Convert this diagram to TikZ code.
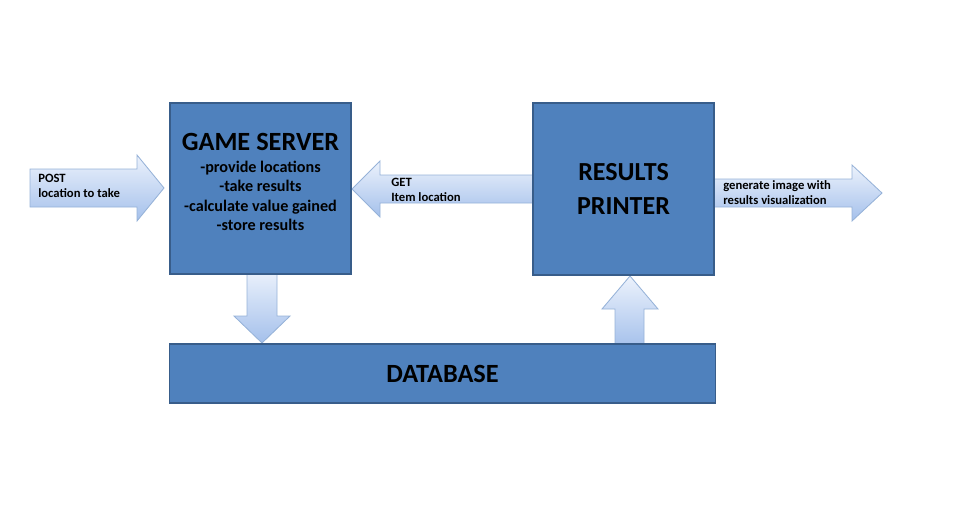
\documentclass[tikz,border=0pt]{standalone}
\usepackage{fontspec}
\setmainfont{Carlito}
\usetikzlibrary{positioning}
\definecolor{boxblue}{RGB}{79,129,189}
\definecolor{boxedge}{RGB}{56,93,138}
\definecolor{arrtop}{RGB}{236,242,252}
\definecolor{arrbot}{RGB}{164,192,235}
\definecolor{arredge}{RGB}{150,178,216}

\begin{document}
\begin{tikzpicture}[x=0.025cm,y=-0.025cm,line join=miter,font=\bfseries,
  block/.style={draw=boxedge,line width=0.8pt,fill=boxblue,inner sep=0pt,align=center},
  fat/.style={draw=arredge,line width=0.6pt,top color=arrtop,bottom color=arrbot},
  tag/.style={font=\bfseries\fontsize{9}{10.8}\selectfont,align=left,anchor=north west,inner sep=0pt}]
  \useasboundingbox (0,0) rectangle (964,516);

  \draw[fat] (30,169) -- (137,169) -- (137,155) -- (164,188) -- (137,221) -- (137,207) -- (30,207) -- cycle;
  \draw[fat] (352,189) -- (380,161) -- (380,175) -- (540,175) -- (540,203) -- (380,203) -- (380,217) -- cycle;
  \draw[fat] (714,179) -- (852,179) -- (852,165) -- (882,193) -- (852,221) -- (852,207) -- (714,207) -- cycle;
  \draw[fat] (247,270) -- (277,270) -- (277,316) -- (290,316) -- (262,343) -- (234,316) -- (247,316) -- cycle;
  \draw[fat] (630,276) -- (658,309) -- (644,309) -- (644,348) -- (615,348) -- (615,309) -- (602,309) -- cycle;

  \node[block,minimum width=4.525cm,minimum height=4.275cm] (gs) at (260.5,188.5) {};
  \node[align=center,inner sep=0pt,font=\bfseries\fontsize{11.5}{13.7}\selectfont] (gstext) at (260.5,182) {%
    \fontsize{18.7}{20}\selectfont GAME SERVER\\[2pt]
    \fontsize{11.5}{13.7}\selectfont -provide locations\\ -take results\\ -calculate value gained\\ -store results};
  \node[block,minimum width=4.525cm,minimum height=4.3cm,font=\bfseries\fontsize{18.5}{24}\selectfont] (pr) at (623.5,189) {RESULTS\\PRINTER};
  \node[block,minimum width=13.625cm,minimum height=1.475cm,font=\bfseries\fontsize{18.7}{20}\selectfont] (db) at (442.5,373.5) {DATABASE};

  \node[tag] (post) at (38,174) {POST\\location to take};
  \node[tag] (get) at (391,178) {GET\\Item location};
  \node[tag] (gen) at (723,180) {generate image with\\results visualization};
\end{tikzpicture}
\end{document}
